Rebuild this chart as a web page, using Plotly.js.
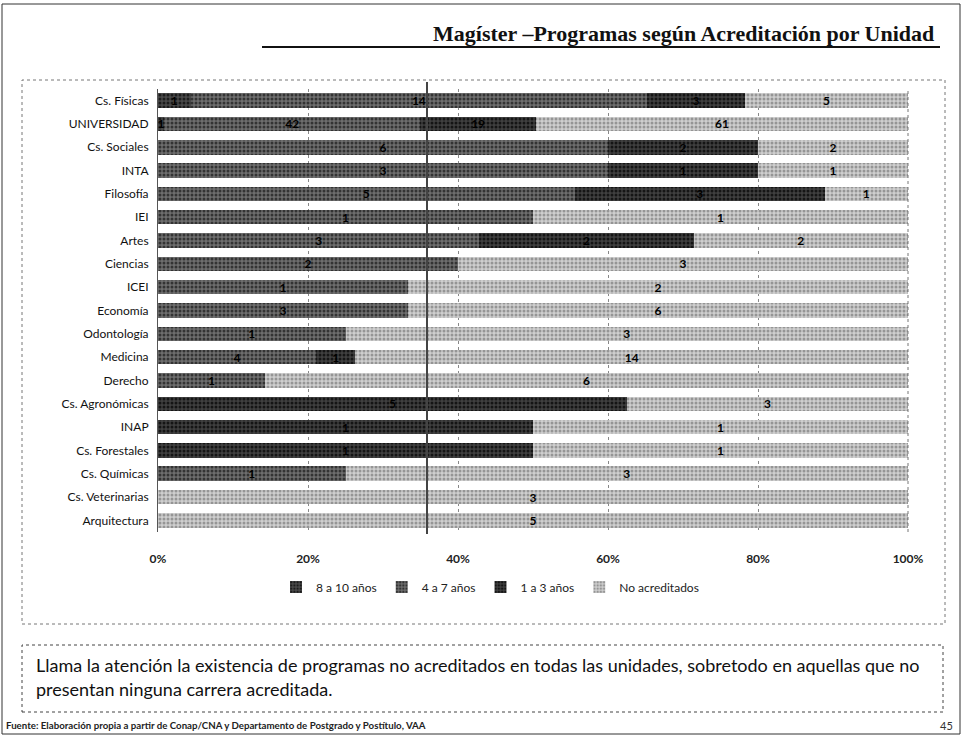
<!DOCTYPE html>
<html>
<head>
<meta charset="utf-8">
<script src="https://cdn.plot.ly/plotly-3.0.1.min.js"></script>
<style>
  html, body { margin: 0; padding: 0; background: #fff; }
  #chart { width: 963px; height: 736px; }
</style>
</head>
<body>
<div id="chart"></div>
<script>
// Magíster: programas por unidad según años de acreditación
const unidades = ['Cs. Físicas', 'UNIVERSIDAD', 'Cs. Sociales', 'INTA', 'Filosofía', 'IEI', 'Artes',
    'Ciencias', 'ICEI', 'Economía', 'Odontología', 'Medicina', 'Derecho', 'Cs. Agronómicas',
    'INAP', 'Cs. Forestales', 'Cs. Químicas', 'Cs. Veterinarias', 'Arquitectura'];
const anios8a10     = [1,  1, 0, 0, 0, 0, 0, 0, 0, 0, 0, 0,  0, 0, 0, 0, 0, 0, 0];
const anios4a7      = [14, 42, 6, 3, 5, 1, 3, 2, 1, 3, 1, 4,  1, 0, 0, 0, 1, 0, 0];
const anios1a3      = [3, 19, 2, 1, 3, 0, 2, 0, 0, 0, 0, 1,  0, 5, 1, 1, 0, 0, 0];
const noAcreditados = [5, 61, 2, 1, 1, 1, 2, 3, 2, 6, 3, 14, 6, 3, 1, 1, 3, 3, 5];
const tickPct = [0, 20, 40, 60, 80, 100];

const W = 963, H = 736;
const mar = {l: 158, r: 55, t: 89, b: 204};
const pw = W - mar.l - mar.r, ph = H - mar.t - mar.b;
// page pixel -> paper coords
const px = x => (x - mar.l) / pw;
const py = y => (H - mar.b - y) / ph;

const etiqueta = arr => arr.map(v => v ? String(v) : '');

function serie(nombre, valores, fondo, puntos) {
    return {
        type: 'bar',
        orientation: 'h',
        name: nombre,
        y: unidades,
        x: valores,
        text: etiqueta(valores),
        textposition: 'inside',
        insidetextanchor: 'middle',
        textangle: 0,
        constraintext: 'none',
        textfont: {family: 'Lato', size: 12, color: '#000', weight: 'bold'},
        hoverinfo: 'name+x',
        marker: {
            color: fondo,
            line: {width: 0},
            pattern: {shape: '.', bgcolor: fondo, fgcolor: puntos, size: 4, solidity: 0.45}
        }
    };
}

const data = [
    serie('8 a 10 años', anios8a10, '#4a4a4a', '#1c1c1c'),
    serie('4 a 7 años', anios4a7, '#6e6e6e', '#333333'),
    serie('1 a 3 años', anios1a3, '#404040', '#151515'),
    serie('No acreditados', noAcreditados, '#cfcfcf', '#959595')
];

const gris = '#555';
const layout = {
    width: W, height: H,
    margin: mar,
    paper_bgcolor: '#fff',
    plot_bgcolor: '#fff',
    barmode: 'stack',
    barnorm: 'percent',
    bargap: 0.38,
    showlegend: true,
    uniformtext: {mode: 'show', minsize: 12},
    font: {family: 'Lato', color: '#111'},
    xaxis: {
        range: [0, 100],
        tickvals: tickPct,
        ticktext: tickPct.map(v => v + '%'),
        tickfont: {family: 'Lato', size: 12, color: '#222', weight: 'bold'},
        showgrid: true,
        gridcolor: '#888',
        griddash: 'dot',
        gridwidth: 1,
        zeroline: false,
        showline: false,
        ticks: '',
        ticklabelstandoff: 18,
        fixedrange: true
    },
    yaxis: {
        type: 'category',
        autorange: 'reversed',
        tickfont: {family: 'Lato', size: 12, color: '#111'},
        showline: true,
        linecolor: gris,
        linewidth: 1,
        showgrid: false,
        ticks: '',
        ticklabelstandoff: 6,
        fixedrange: true
    },
    legend: {
        orientation: 'h',
        traceorder: 'normal',
        x: px(490), xanchor: 'center',
        y: py(587), yanchor: 'middle',
        font: {family: 'Lato', size: 12, color: '#222'},
        itemwidth: 30
    },
    shapes: [
        // marco de página
        {type: 'rect', xref: 'paper', yref: 'paper', x0: px(2), x1: px(960), y0: py(734), y1: py(4),
         line: {color: '#333', width: 1}},
        // subrayado del título
        {type: 'line', xref: 'paper', yref: 'paper', x0: px(262), x1: px(940), y0: py(47), y1: py(47),
         line: {color: '#111', width: 2}},
        // recuadro del gráfico
        {type: 'rect', xref: 'paper', yref: 'paper', x0: px(22), x1: px(945), y0: py(624), y1: py(80),
         line: {color: '#777', width: 1, dash: 'dot'}},
        // borde derecho del área de trazado
        {type: 'line', xref: 'paper', yref: 'paper', x0: 1, x1: 1, y0: 0, y1: 1,
         line: {color: '#777', width: 1, dash: 'dot'}},
        // pliegue del escaneo
        {type: 'line', xref: 'paper', yref: 'paper', x0: px(427), x1: px(427), y0: py(534), y1: py(82),
         line: {color: '#444', width: 2}},
        // recuadro del comentario
        {type: 'rect', xref: 'paper', yref: 'paper', x0: px(22), x1: px(943), y0: py(712), y1: py(645),
         line: {color: '#444', width: 1, dash: 'dot'}}
    ],
    annotations: [
        {xref: 'paper', yref: 'paper', x: px(936), y: py(33), xanchor: 'right', yanchor: 'middle',
         text: '<b>Magíster –Programas según Acreditación por Unidad</b>', showarrow: false,
         font: {family: 'Liberation Serif', size: 22, color: '#111'}},
        {xref: 'paper', yref: 'paper', x: px(34), y: py(665), xanchor: 'left', yanchor: 'middle',
         text: 'Llama la atención la existencia de programas no acreditados en todas las unidades, sobretodo en aquellas que no',
         showarrow: false, font: {family: 'Lato', size: 18, color: '#111'}},
        {xref: 'paper', yref: 'paper', x: px(34), y: py(689), xanchor: 'left', yanchor: 'middle',
         text: 'presentan ninguna carrera acreditada.',
         showarrow: false, font: {family: 'Lato', size: 18, color: '#111'}},
        {xref: 'paper', yref: 'paper', x: px(4), y: py(725), xanchor: 'left', yanchor: 'middle',
         text: '<b>Fuente: Elaboración propia a partir de Conap/CNA y Departamento de Postgrado y Postítulo, VAA</b>',
         showarrow: false, font: {family: 'Lato', size: 9.7, color: '#222'}},
        {xref: 'paper', yref: 'paper', x: px(955), y: py(725), xanchor: 'right', yanchor: 'middle',
         text: '45', showarrow: false, font: {family: 'Lato', size: 11, color: '#333'}}
    ]
};

Plotly.newPlot('chart', data, layout, {displayModeBar: false, staticPlot: true});
</script>
</body>
</html>
